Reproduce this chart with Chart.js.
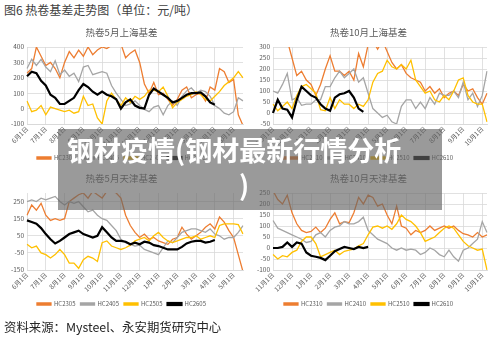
<!DOCTYPE html>
<html lang="zh">
<head>
<meta charset="UTF-8">
<title>热卷基差走势图</title>
<script src="https://cdn.jsdelivr.net/npm/chart.js@4.4.1/dist/chart.umd.min.js"></script>
<style>
  body {
    margin: 0;
    width: 500px;
    height: 339px;
    overflow: hidden;
    background: #fff;
    position: relative;
    font-family: "Noto Sans CJK SC", sans-serif;
  }
  .fig-title { position: absolute; left: 4px; top: 1px; font-size: 12px; color: #404040; }
  .source { position: absolute; left: 4px; top: 318px; font-size: 12.4px; color: #262626; }
  canvas { position: absolute; }
  #tl { left: 0; top: 20px; }
  #tr { left: 250px; top: 20px; }
  #bl { left: 0; top: 166px; }
  #br { left: 250px; top: 166px; }
  /* grey overlay banner */
  .banner {
    position: absolute;
    left: 58px; top: 129px;
    width: 384px; height: 81px;
    background: rgba(100, 100, 100, 0.65);
    color: #fff;
    font-weight: 700;
    font-size: 27px;
    line-height: 35px;
    white-space: nowrap;
    z-index: 5;
  }
  .banner .l1 { padding: 3px 0 0 9px; }
  .banner .l2 { padding-left: 181px; }
</style>
</head>
<body>
<div class="fig-title">图6 热卷基差走势图（单位：元/吨）</div>

<canvas id="tl" width="250" height="151"></canvas>
<canvas id="tr" width="250" height="151"></canvas>
<canvas id="bl" width="250" height="151"></canvas>
<canvas id="br" width="250" height="151"></canvas>

<div class="banner"><div class="l1">钢材疫情(钢材最新行情分析</div><div class="l2">)</div></div>

<div class="source">资料来源：Mysteel、永安期货研究中心</div>

<script>
// month tick labels (one per 4 weekly points)
const monthsMay = ['6月1日','7月1日','8月1日','9月1日','10月1日','11月1日','12月1日','1月1日','2月1日','3月1日','4月1日','5月1日'];
const monthsOct = ['11月1日','12月1日','1月1日','2月1日','3月1日','4月1日','5月1日','6月1日','7月1日','8月1日','9月1日','10月1日'];

const namesMay = ['HC2305','HC2405','HC2505','HC2605'];
const namesOct = ['HC2310','HC2410','HC2510','HC2610'];

// 热卷5月上海基差
const shMay2305 = [230,260,400,340,280,300,260,200,300,370,330,380,340,400,350,380,400,390,410,430,420,330,360,380,300,160,100,170,90,100,60,20,60,120,140,70,90,100,50,140,120,260,240,170,190,-40,-110];
const shMay2405 = [260,320,280,320,270,240,310,220,250,210,230,175,270,280,220,230,240,230,150,100,60,20,30,50,20,-5,-20,10,20,-40,20,50,20,80,115,135,100,120,110,80,20,0,-30,-40,-20,70,50];
const shMay2505 = [50,-20,-10,20,-40,10,0,-10,-20,-10,-30,-20,80,20,30,-60,-100,50,100,60,20,70,40,80,60,80,120,120,110,140,80,5,40,60,80,90,110,90,60,50,80,110,150,175,200,240,200];
const shMay2605 = [210,240,230,180,150,90,70,30,30,50,70,120,160,140,110,90,110,90,80,60,0,40,60,20,5,0,90,130,110,90,70,40,50,70,90,100,100,105,80,40,25];

// 热卷10月上海基差
const shOct2310 = [380,360,340,330,250,170,190,150,130,80,130,200,260,190,190,170,190,150,270,210,310,330,290,330,280,230,200,220,180,160,150,140,100,120,90,110,70,90,100,80,130,100,110,70,40,90];
const shOct2410 = [100,90,130,180,60,70,35,40,40,60,60,120,120,160,190,160,180,200,140,160,90,20,0,-20,-10,-40,-50,30,60,60,20,50,20,70,40,90,80,80,100,70,140,60,90,30,80,190];
const shOct2510 = [40,10,30,50,20,80,120,130,110,90,15,10,70,20,60,40,40,20,40,30,60,140,180,190,240,210,200,220,200,240,150,120,90,100,60,50,80,60,100,150,160,80,50,40,40,-40];
const shOct2610 = [0,60,20,15,-20,60,120,100,80,70,40,20,10,70,85,90,100,70,20,5];

// 热卷5月天津基差
const tjMay2305 = [170,230,200,240,170,140,150,140,150,250,270,290,300,270,310,290,270,310,310,300,270,170,110,70,40,60,30,40,20,10,0,30,40,100,60,30,50,70,100,120,90,160,130,80,40,-60,-160];
const tjMay2405 = [250,260,250,270,260,270,280,250,230,250,240,250,220,190,200,170,150,140,110,80,30,10,0,-10,-5,-30,-40,-50,-60,-20,20,10,40,70,80,90,90,80,70,90,60,50,30,40,40,70,110];
const tjMay2505 = [0,-20,-10,-50,-60,-80,-60,-30,-60,-110,-110,-140,-90,-70,-80,-100,10,20,-10,-20,-30,-20,-5,20,30,40,20,50,70,40,20,10,20,30,40,40,50,30,40,50,40,110,120,120,120,115,60];
const tjMay2605 = [140,130,120,95,60,30,5,20,40,60,70,80,60,50,40,50,100,70,40,20,20,15,0,10,0,15,10,-5,-10,-20,-30,-30,-30,-15,5,15,20,20,10,15,25];

// 热卷10月天津基差
const tjOct2310 = [260,220,200,240,160,110,80,70,75,95,70,90,130,160,110,120,115,160,230,200,240,230,190,200,150,110,190,100,90,60,80,70,80,100,80,90,100,90,100,80,65,60,50,70,50,60];
const tjOct2410 = [125,90,80,70,60,50,40,25,30,60,70,50,80,95,100,120,110,110,120,140,80,60,40,30,20,0,-10,0,-10,-5,-10,-30,-20,0,-10,-30,-40,-10,-40,-60,-10,0,20,40,120,70];
const tjOct2510 = [-30,-50,-35,-40,-20,-10,30,50,50,20,-40,-30,-20,-10,-30,-15,-10,-5,10,20,60,95,100,90,100,85,110,150,130,120,100,70,30,40,50,70,90,100,90,60,30,10,0,-10,-5,-100];
const tjOct2610 = [0,0,5,25,5,25,20,-20,-35,-40,-45,-55,-35,-15,-5,5,0,-5,5,0,5];

const colors = ['#ED7D31', '#A5A5A5', '#FFC000', '#000000'];
const widths = [1.3, 1.3, 1.3, 2.2];

Chart.defaults.font.family = '"Noto Sans CJK SC", sans-serif';
Chart.defaults.color = '#595959';

function makeChart(id, title, months, names, series, yMin, yMax, yWidth, padRight) {
    const n = Math.max(...series.map(s => s.length));
    const labels = [];
    for (let i = 0; i < n; i++) {
        labels.push(i % 4 === 0 && months[i / 4] ? months[i / 4] : '');
    }

    const datasets = series.map((s, k) => ({
        label: names[k],
        data: s,
        borderColor: colors[k],
        backgroundColor: colors[k],
        borderWidth: widths[k],
        pointRadius: 0,
        tension: 0,
        order: 4 - k   // black on top, like the original
    }));

    new Chart(document.getElementById(id).getContext('2d'), {
        type: 'line',
        data: { labels: labels, datasets: datasets },
        options: {
            responsive: false,
            animation: false,
            layout: { padding: { left: 0, right: padRight, top: 0, bottom: 0 } },
            plugins: {
                title: {
                    display: true,
                    text: title,
                    color: '#595959',
                    font: { size: 9.5, weight: 'normal' },
                    padding: { top: 7, bottom: 8.6 }
                },
                legend: {
                    position: 'bottom',
                    labels: {
                        boxWidth: 14,
                        boxHeight: 2,
                        padding: 5,
                        font: { size: 6 },
                        color: '#595959',
                        sort: (a, b) => a.datasetIndex - b.datasetIndex
                    }
                },
                tooltip: { enabled: false }
            },
            scales: {
                x: {
                    ticks: {
                        autoSkip: false,
                        maxRotation: 45,
                        minRotation: 45,
                        padding: 1,
                        font: { size: 6.5 }
                    },
                    grid: {
                        color: ctx => (ctx.index % 4 === 0 ? '#d9d9d9' : 'rgba(0,0,0,0)'),
                        lineWidth: 0.8,
                        drawTicks: false
                    },
                    border: { color: '#d9d9d9' },
                    afterFit: scale => { scale.height = 26; }
                },
                y: {
                    min: yMin,
                    max: yMax,
                    ticks: { stepSize: 50, padding: 3, font: { size: 6.5 } },
                    grid: { color: '#d9d9d9', lineWidth: 0.8, drawTicks: false },
                    border: { display: false },
                    afterFit: scale => { scale.width = yWidth; }
                }
            }
        }
    });
}

makeChart('tl', '热卷5月上海基差', monthsMay, namesMay, [shMay2305, shMay2405, shMay2505, shMay2605], -100, 400, 27, 7);
makeChart('tr', '热卷10月上海基差', monthsOct, namesOct, [shOct2310, shOct2410, shOct2510, shOct2610], -50, 300, 23, 13);
makeChart('bl', '热卷5月天津基差', monthsMay, namesMay, [tjMay2305, tjMay2405, tjMay2505, tjMay2605], -150, 300, 27, 7);
makeChart('br', '热卷10月天津基差', monthsOct, namesOct, [tjOct2310, tjOct2410, tjOct2510, tjOct2610], -100, 250, 23, 13);
</script>
</body>
</html>
